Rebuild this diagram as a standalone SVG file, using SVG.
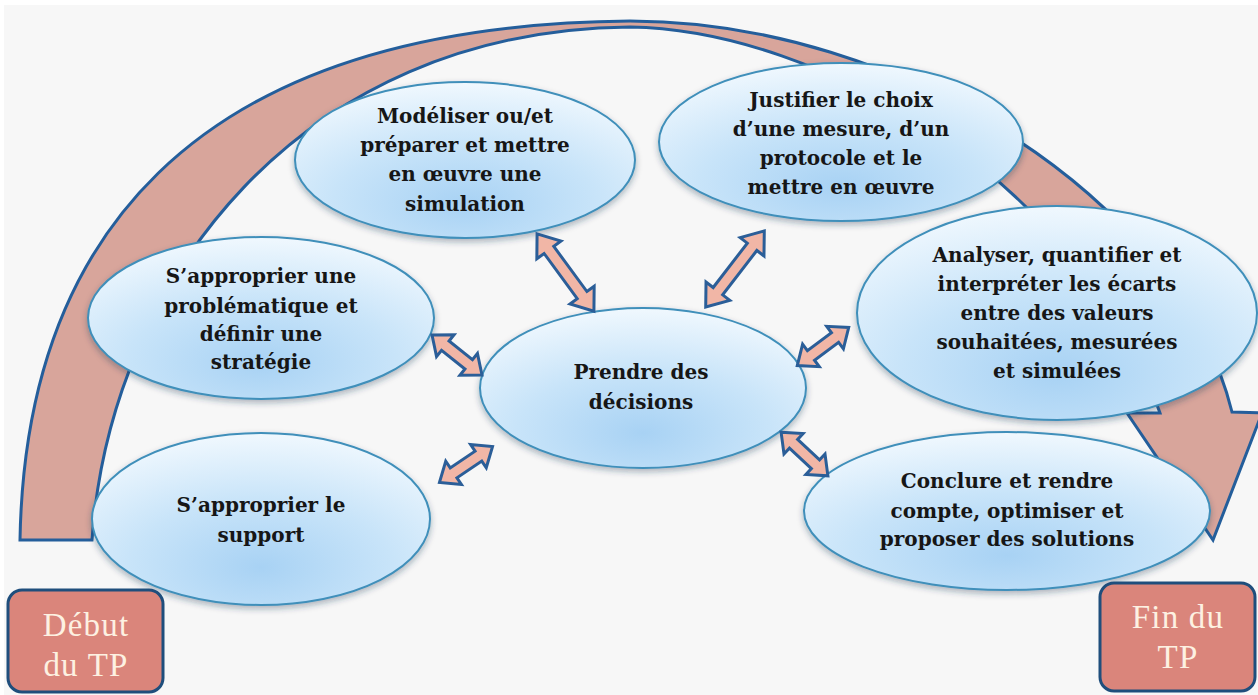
<svg xmlns="http://www.w3.org/2000/svg" width="1258" height="695" viewBox="0 0 1258 695">
<style>
.el{fill:url(#eg);stroke:#3f8fba;stroke-width:2;filter:url(#sh)}
.t{font-family:"DejaVu Serif","Liberation Serif",serif;font-weight:bold;font-size:20px;fill:#161616;text-anchor:middle}
.bt{font-family:"Liberation Serif","Times New Roman",serif;font-size:33px;letter-spacing:1.2px;fill:#fdf1e2;text-anchor:middle}
.box{fill:#da857b;stroke:#1f4e7c;stroke-width:3}
.dbl{fill:#f1b6a6;stroke:#2b5e98;stroke-width:3;stroke-linejoin:miter}
.band{fill:#d8a59b;stroke:#245e9b;stroke-width:3;stroke-linejoin:miter}
</style>
<defs>
<radialGradient id="eg" cx="0.5" cy="0.78" r="0.78">
<stop offset="0" stop-color="#a8d2f4"/>
<stop offset="0.5" stop-color="#c8e4f9"/>
<stop offset="1" stop-color="#f0f8fe"/>
</radialGradient>
<filter id="sh" x="-10%" y="-10%" width="120%" height="130%">
<feDropShadow dx="0" dy="3" stdDeviation="3" flood-color="#1a3550" flood-opacity="0.35"/>
</filter>
<path id="dl" d="M-48,0 L-28,-15 L-28,-6 L28,-6 L28,-15 L48,0 L28,15 L28,6 L-28,6 L-28,15 Z"/>
<path id="ds" d="M-32,0 L-15,-14 L-15,-6 L15,-6 L15,-14 L32,0 L15,14 L15,6 L-15,6 L-15,14 Z"/>
</defs>
<rect x="0" y="0" width="1258" height="695" fill="#ffffff"/>
<rect x="4" y="5" width="1254" height="690" fill="#f7f7f7"/>

<g id="cycle-arrow">
<path class="band" d="M20,540 C25,250 180,25 630,21 C900,21 1180,200 1232,412 L1262,413 L1213,540 L1127,413 L1160,413 C1080,180 820,30 630,27 C300,30 110,280 92,540 Z"/>
</g>

<g id="node-modeliser">
<ellipse class="el" cx="465" cy="160" rx="170" ry="78"/>
<text class="t" x="465" y="123">Modéliser ou/et</text>
<text class="t" x="465" y="152">préparer et mettre</text>
<text class="t" x="465" y="181">en œuvre une</text>
<text class="t" x="465" y="211">simulation</text>
</g>

<g id="node-justifier">
<ellipse class="el" cx="841" cy="142" rx="182" ry="79"/>
<text class="t" x="841" y="107">Justifier le choix</text>
<text class="t" x="841" y="136">d’une mesure, d’un</text>
<text class="t" x="841" y="165">protocole et le</text>
<text class="t" x="841" y="194">mettre en œuvre</text>
</g>

<g id="node-problematique">
<ellipse class="el" cx="261" cy="318" rx="173" ry="81"/>
<text class="t" x="261" y="283">S’approprier une</text>
<text class="t" x="261" y="313">problématique et</text>
<text class="t" x="261" y="341">définir une</text>
<text class="t" x="261" y="369">stratégie</text>
</g>

<g id="node-analyser">
<ellipse class="el" cx="1057" cy="313" rx="200" ry="107"/>
<text class="t" x="1057" y="262">Analyser, quantifier et</text>
<text class="t" x="1057" y="291">interpréter les écarts</text>
<text class="t" x="1057" y="320">entre des valeurs</text>
<text class="t" x="1057" y="349">souhaitées, mesurées</text>
<text class="t" x="1057" y="378">et simulées</text>
</g>

<g id="node-decisions">
<ellipse class="el" cx="643" cy="388" rx="163" ry="80"/>
<text class="t" x="641" y="379">Prendre des</text>
<text class="t" x="641" y="409">décisions</text>
</g>

<g id="node-support">
<ellipse class="el" cx="261" cy="519" rx="169" ry="86"/>
<text class="t" x="261" y="512">S’approprier le</text>
<text class="t" x="261" y="542">support</text>
</g>

<g id="node-conclure">
<ellipse class="el" cx="1007" cy="511" rx="203" ry="79"/>
<text class="t" x="1007" y="488">Conclure et rendre</text>
<text class="t" x="1007" y="518">compte, optimiser et</text>
<text class="t" x="1007" y="546">proposer des solutions</text>
</g>

<g id="connectors">
<use href="#dl" class="dbl" transform="translate(565.5,272.5) rotate(53.7)"/>
<use href="#dl" class="dbl" transform="translate(735,269) rotate(127.6)"/>
<use href="#ds" class="dbl" transform="translate(457,355) rotate(38.7)"/>
<use href="#ds" class="dbl" transform="translate(823,346.5) rotate(143.5)"/>
<use href="#ds" class="dbl" transform="translate(466,464.5) rotate(-34)"/>
<use href="#ds" class="dbl" transform="translate(804.5,454) rotate(43)"/>
</g>

<g id="node-debut">
<rect class="box" x="8" y="590" width="155" height="102" rx="14"/>
<text class="bt" x="86" y="636">Début</text>
<text class="bt" x="86" y="676">du TP</text>
</g>

<g id="node-fin">
<rect class="box" x="1100" y="583" width="155" height="108" rx="14"/>
<text class="bt" x="1178" y="628">Fin du</text>
<text class="bt" x="1178" y="668">TP</text>
</g>
</svg>
